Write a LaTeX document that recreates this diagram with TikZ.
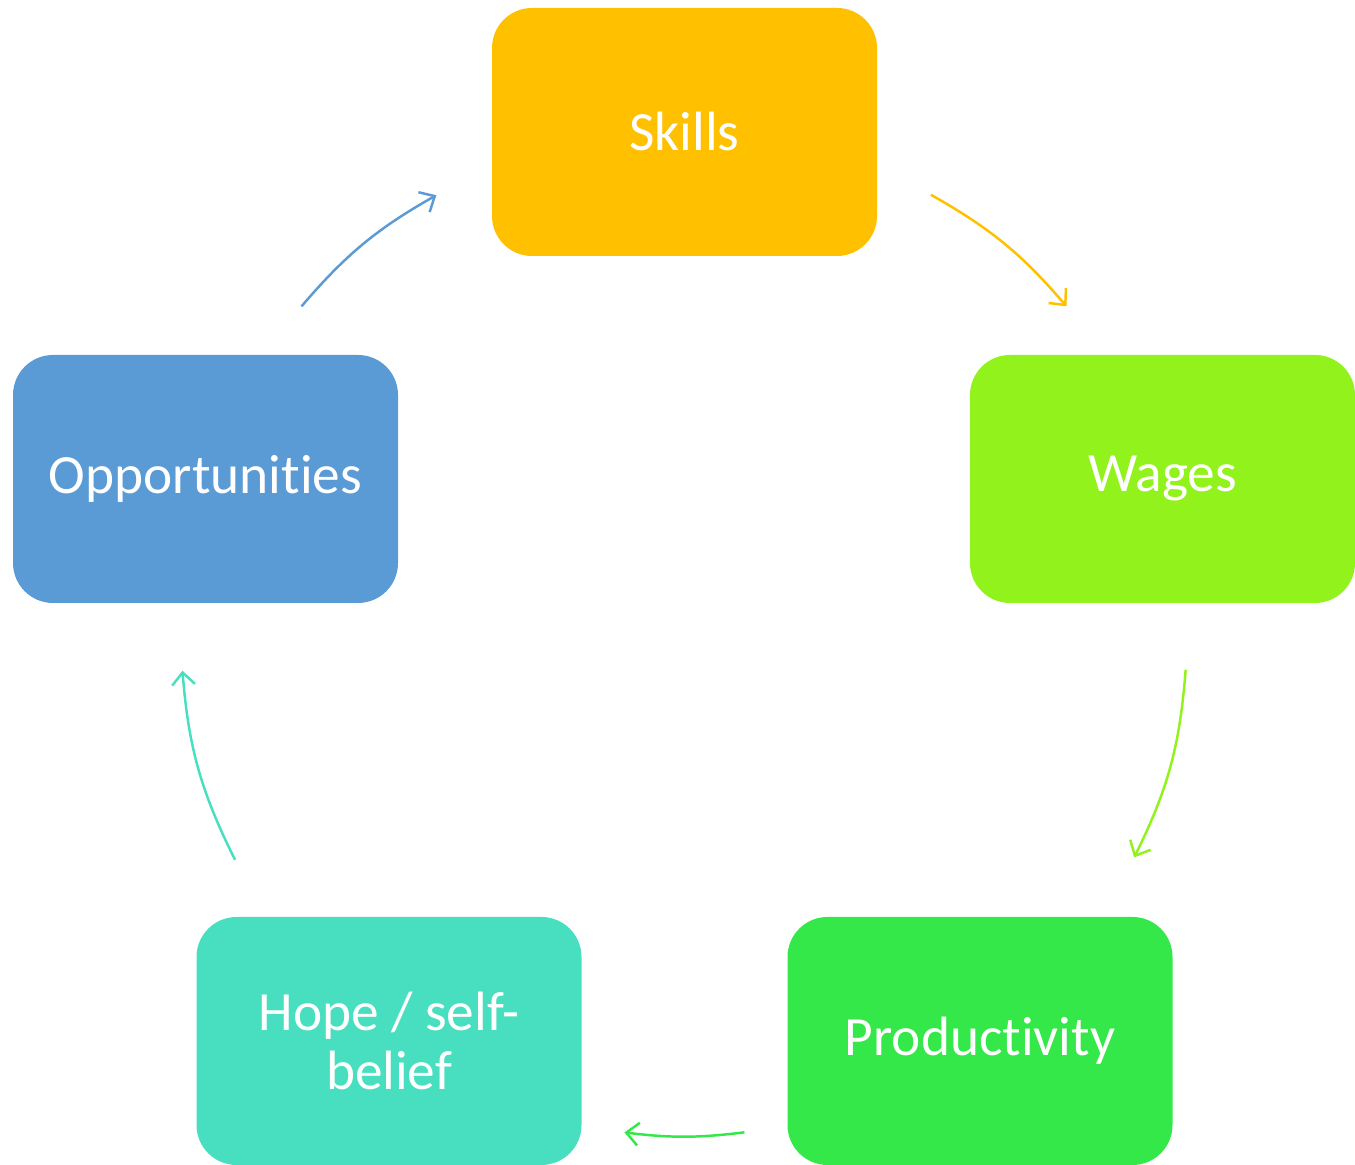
\documentclass[tikz,border=0pt]{standalone}
\usepackage{fontspec}
\setmainfont[Ligatures=NoCommon]{Carlito}
\usetikzlibrary{arrows.meta}
\definecolor{skillcol}{HTML}{FFC000}
\definecolor{wagecol}{HTML}{92F21C}
\definecolor{prodcol}{HTML}{33E848}
\definecolor{hopecol}{HTML}{48DFC0}
\definecolor{oppcol}{HTML}{5B9BD5}
\tikzset{
  stepbox/.style={rounded corners=0.8cm, minimum width=7.7cm, minimum height=4.96cm,
    text=white, align=center, inner sep=0pt,
    font=\fontsize{31.5}{34}\selectfont},
  cyclearrow/.style={line width=1.4pt, -{Straight Barb[length=7pt,width=13pt,line width=1.4pt]}}
}
\begin{document}
\begin{tikzpicture}
\useasboundingbox (0,0) rectangle (27.1,23.3);
% Centre and radius of the cycle
\def\r{10.06}
\coordinate (C) at (13.68,10.64);

% The five boxes
\node[stepbox, fill=skillcol] (skills) at (13.69,20.66) {Skills};
\node[stepbox, fill=wagecol] (wages) at (23.25,13.72) {Wages};
\node[stepbox, fill=prodcol] (prod) at (19.6,2.48) {Productivity};
\node[stepbox, fill=hopecol] (hope) at (7.78,2.48) {Hope / self-\\belief};
\node[stepbox, fill=oppcol] (opp) at (4.11,13.72) {Opportunities};

% Ends of the arrows, on the circle round C
\coordinate (s1) at ([shift={(60.6:\r)}]C);
\coordinate (s2) at ([shift={(40.5:\r)}]C);
\coordinate (w1) at ([shift={(-4.2:\r)}]C);
\coordinate (w2) at ([shift={(-26.5:\r)}]C);
\coordinate (p1) at ([shift={(-83.1:\r)}]C);
\coordinate (p2) at ([shift={(-96.8:\r)}]C);
\coordinate (h1) at ([shift={(-153.2:\r)}]C);
\coordinate (h2) at ([shift={(-175.7:\r)}]C);
\coordinate (o1) at ([shift={(139.5:\r)}]C);
\coordinate (o2) at ([shift={(119.5:\r)}]C);

% The arrows, clockwise
\draw[cyclearrow, skillcol] (s1) to[bend left=10] (s2);
\draw[cyclearrow, wagecol] (w1) to[bend left=11] (w2);
\draw[cyclearrow, prodcol] (p1) to[bend left=7] (p2);
\draw[cyclearrow, hopecol] (h1) to[bend left=11] (h2);
\draw[cyclearrow, oppcol] (o1) to[bend left=10] (o2);
\end{tikzpicture}
\end{document}
